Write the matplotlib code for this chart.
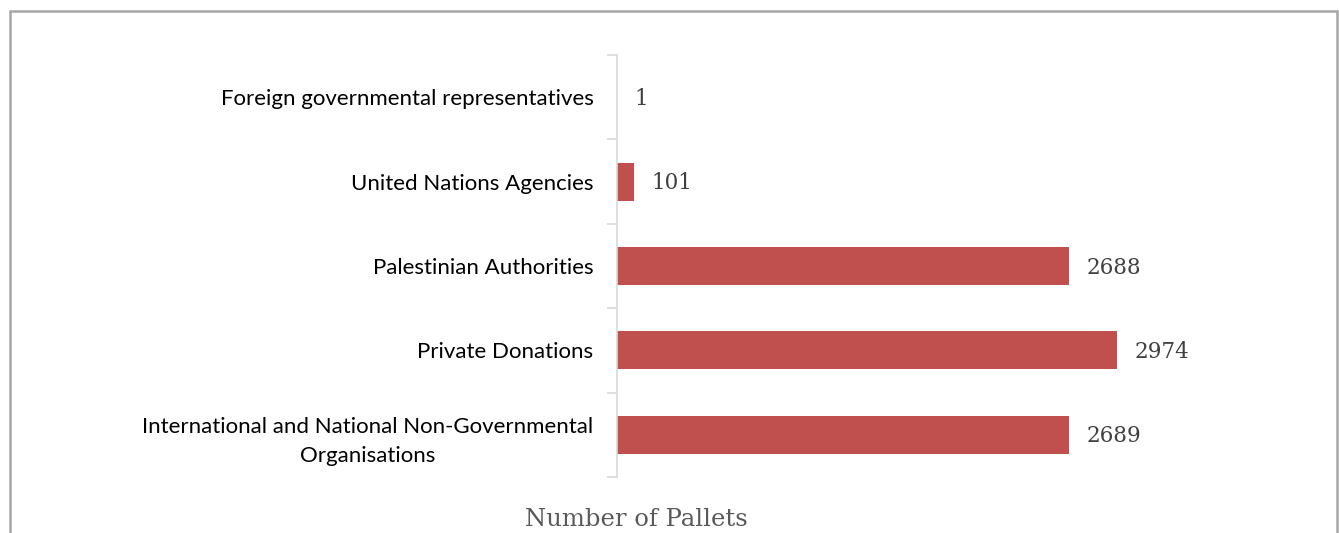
import matplotlib
matplotlib.use('Agg')
from matplotlib import pyplot as plt
from matplotlib.patches import Rectangle
import numpy as np

categories = ['Foreign governmental representatives',
              'United Nations Agencies',
              'Palestinian Authorities',
              'Private Donations',
              'International and National Non-Governmental\nOrganisations']
pallets = [1, 101, 2688, 2974, 2689]

W, H = 1339, 533
fig = plt.figure(figsize=(W / 100, H / 100), dpi=100)

# axes placed in pixel terms of the reference
x0, x1 = 617, 1205
ytop, ybot = 55, 477
ax = fig.add_axes([x0 / W, 1 - ybot / H, (x1 - x0) / W, (ybot - ytop) / H])

pos = np.arange(len(categories))
ax.barh(pos, pallets, height=0.45, color='#c0504d')
ax.set_xlim(0, 3500)
ax.set_ylim(len(categories) - 0.5, -0.5)

ax.set_yticks(pos)
ax.set_yticklabels(categories, fontsize=16, family='Lato', color='black')
for lbl in ax.get_yticklabels():
    lbl.set_multialignment('center')
    lbl.set_linespacing(1.6)
ax.set_yticks(np.arange(len(categories) + 1) - 0.5, minor=True)
ax.tick_params(axis='y', which='major', length=0, pad=17)
ax.tick_params(axis='y', which='minor', length=7, color='#d9d9d9', width=1.2)
ax.set_xticks([])

for s in ['top', 'right', 'bottom']:
    ax.spines[s].set_visible(False)
ax.spines['left'].set_color('#d9d9d9')
ax.spines['left'].set_linewidth(1.2)

for p, v in zip(pos, pallets):
    ax.text(v + 105, p + 0.02, str(v), va='center', ha='left',
            fontsize=15.5, family='DejaVu Serif', color='#404040')

fig.text(636 / W, 1 - 520 / H, 'Number of Pallets', ha='center', va='center',
         fontsize=17.5, family='DejaVu Serif', color='#595959')

# outer chart frame (bottom edge cut off)
fig.patches.append(Rectangle((9.5 / W, -0.05), (1337 - 9.5) / W, 1.05 - 11 / H,
                             transform=fig.transFigure, fill=False,
                             edgecolor='#a6a6a6', linewidth=1.8))

plt.savefig('out.png', dpi=100)
